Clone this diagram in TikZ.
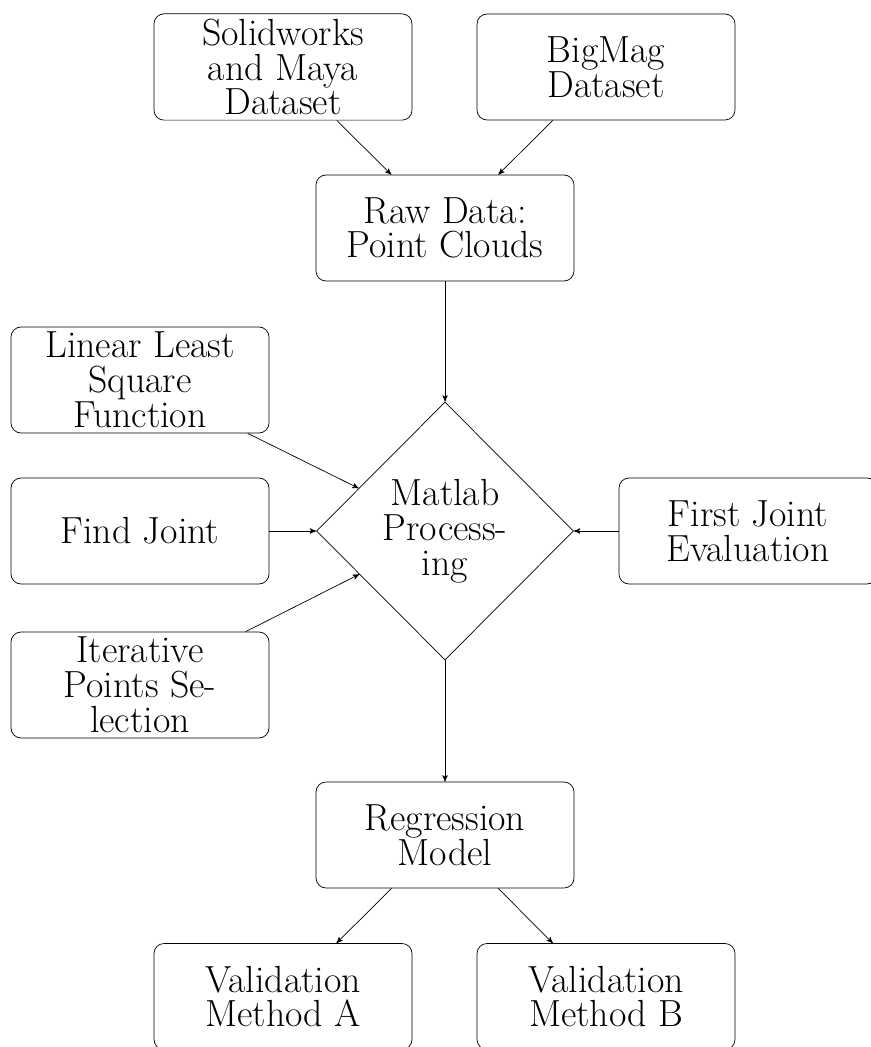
\documentclass[tikz,border=0pt]{standalone}
\usepackage{fontspec}
\usepackage{tikz}
\usetikzlibrary{arrows,shapes.geometric}

\begin{document}
\begin{tikzpicture}[>=stealth']
\tikzstyle{place}=[rectangle, rounded corners=2mm, draw=black, minimum width=5.16cm, minimum height=2.12cm, align=center, inner sep=1mm, font=\fontsize{21.5pt}{19.8pt}\selectfont]
\tikzstyle{decision}=[diamond, draw=black, minimum width=5.14cm, minimum height=5.16cm, inner sep=0pt, align=center, font=\fontsize{21.5pt}{19.8pt}\selectfont]

\useasboundingbox (0,0) rectangle (17.42,-20.94);
\clip (0,0) rectangle (17.42,-20.94);

% Datasets
\node at (5.66, -1.34) [place] (solid) {Solidworks\\and Maya\\Dataset};
\node at (12.12, -1.34) [place] (bigmag) {BigMag\\Dataset};
\node at (8.9, -4.56) [place] (raw) {Raw Data:\\Point Clouds};

\draw [->] (solid) to (raw);
\draw [->] (bigmag) to (raw);

% Processing
\node at (8.9, -10.62) [decision] (matlab) {Matlab\\Process-\\ing};
\node at (2.8, -7.6) [place] (linear) {Linear Least\\Square\\Function};
\node at (2.8, -10.62) [place] (find) {Find Joint};
\node at (2.8, -13.7) [place] (iter) {Iterative\\Points Se-\\lection};
\node at (14.96, -10.62) [place] (first) {First Joint\\Evaluation};

\draw [->] (raw) to (matlab);
\foreach \s in {linear, find, iter}
\draw [->] (\s) to (matlab);
\draw [->] (first) to (matlab);

% Output
\node at (8.9, -16.7) [place] (regr) {Regression\\Model};
\node at (5.66, -19.93) [place] (valA) {Validation\\Method A};
\node at (12.12, -19.93) [place] (valB) {Validation\\Method B};

\draw [->] (matlab) to (regr);
\draw [->] (regr) to (valA);
\draw [->] (regr) to (valB);
\end{tikzpicture}
\end{document}
